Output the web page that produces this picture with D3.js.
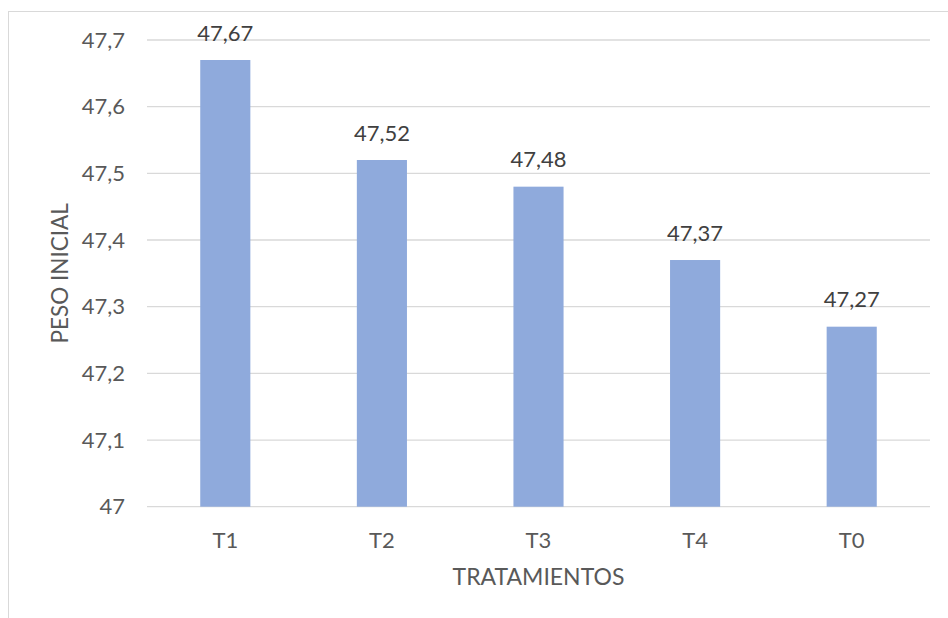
<!DOCTYPE html>
<html><head><meta charset="utf-8">
<script src="https://cdn.jsdelivr.net/npm/d3@7"></script>
<style>body{margin:0;background:#fff;} svg{display:block;}</style>
</head><body>
<svg id="c" width="948" height="618"></svg>
<script>
const categories = ["T1","T2","T3","T4","T0"];
const values = [47.67, 47.52, 47.48, 47.37, 47.27];
const yTicks = [47, 47.1, 47.2, 47.3, 47.4, 47.5, 47.6, 47.7];
const xTitle = "TRATAMIENTOS";
const yTitle = "PESO INICIAL";

const svg = d3.select("#c");
const font = "Lato, 'Open Sans', sans-serif";
const txt = "#595959";
const fmt = v => String(v).replace(".", ",");

svg.append("rect").attr("x",8.5).attr("y",11.5).attr("width",960).attr("height",620)
  .attr("fill","#fff").attr("stroke","#d9d9d9").attr("stroke-width",1);

const m = {l:147, r:930, t:40, b:506.7};
const x = d3.scaleBand().domain(categories).range([m.l, m.r]).paddingInner(0.68).paddingOuter(0.34);
const y = d3.scaleLinear().domain([47, 47.7]).range([m.b, m.t]);

svg.append("g").selectAll("line").data(yTicks).join("line")
  .attr("x1", m.l).attr("x2", m.r)
  .attr("y1", d => y(d)).attr("y2", d => y(d))
  .attr("stroke", "#d9d9d9").attr("stroke-width", 1.3);

svg.append("g").selectAll("text").data(yTicks).join("text")
  .attr("x", 125).attr("y", d => y(d)).attr("dy", "0.35em")
  .attr("text-anchor", "end").attr("font-family", font).attr("font-size", 22)
  .attr("fill", txt).text(d => fmt(d));

svg.append("g").selectAll("rect").data(values).join("rect")
  .attr("x", (d,i) => x(categories[i])).attr("width", x.bandwidth())
  .attr("y", d => y(d)).attr("height", d => y(47) - y(d))
  .attr("fill", "#8faadc");

svg.append("g").selectAll("text").data(values).join("text")
  .attr("x", (d,i) => x(categories[i]) + x.bandwidth()/2)
  .attr("y", d => y(d) - 27).attr("dy", "0.35em")
  .attr("text-anchor", "middle").attr("font-family", font).attr("font-size", 22)
  .attr("fill", "#404040").text(d => fmt(d));

svg.append("g").selectAll("text").data(categories).join("text")
  .attr("x", d => x(d) + x.bandwidth()/2).attr("y", 540).attr("dy", "0.35em")
  .attr("text-anchor", "middle").attr("font-family", font).attr("font-size", 22)
  .attr("fill", txt).text(d => d);

svg.append("text").attr("x", (m.l+m.r)/2).attr("y", 577).attr("dy","0.35em")
  .attr("text-anchor","middle").attr("font-family", font).attr("font-size", 23)
  .attr("fill", txt).text(xTitle);

svg.append("text").attr("transform", `translate(60,${(m.t+m.b)/2}) rotate(-90)`)
  .attr("dy","0.35em").attr("text-anchor","middle").attr("font-family", font).attr("font-size", 22.5)
  .attr("fill", txt).text(yTitle);
</script>
</body></html>
